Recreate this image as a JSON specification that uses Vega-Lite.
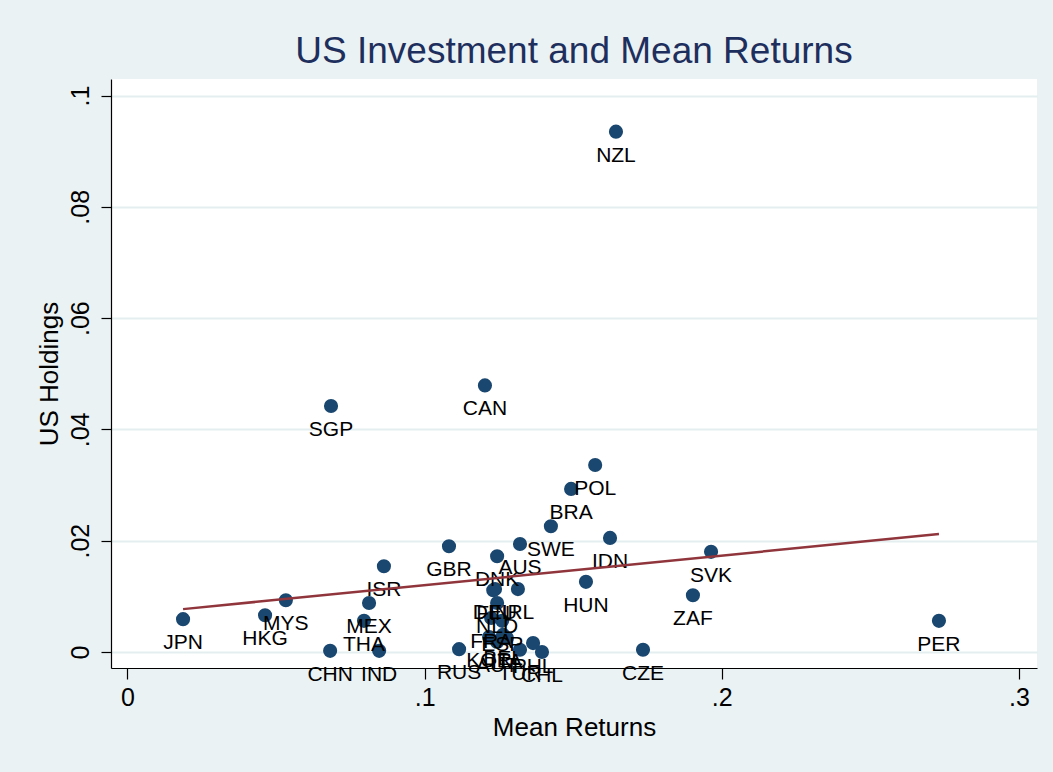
{
  "$schema": "https://vega.github.io/schema/vega-lite/v6.json",
  "width": 926,
  "height": 589,
  "autosize": "none",
  "padding": {"left": 111, "top": 79, "right": 16, "bottom": 104},
  "background": "#eaf2f3",
  "config": {"view": {"fill": "white", "stroke": null}, "font": "Liberation Sans"},
  "title": {"text": "US Investment and Mean Returns", "fontSize": 37, "fontWeight": "normal", "color": "#1e2f5e", "font": "Liberation Sans", "anchor": "middle", "offset": 8},
  "datasets": {
    "pts": [
      {"country": "JPN", "ret": 0.0187, "hold": 0.0059},
      {"country": "HKG", "ret": 0.0463, "hold": 0.0066},
      {"country": "MYS", "ret": 0.0533, "hold": 0.0093},
      {"country": "SGP", "ret": 0.0685, "hold": 0.0442},
      {"country": "CHN", "ret": 0.0682, "hold": 0.0002},
      {"country": "THA", "ret": 0.0796, "hold": 0.0056},
      {"country": "MEX", "ret": 0.0813, "hold": 0.0088},
      {"country": "IND", "ret": 0.0847, "hold": 0.0002},
      {"country": "ISR", "ret": 0.0863, "hold": 0.0154},
      {"country": "GBR", "ret": 0.1082, "hold": 0.0190},
      {"country": "RUS", "ret": 0.1116, "hold": 0.0005},
      {"country": "CAN", "ret": 0.1203, "hold": 0.0479},
      {"country": "DNK", "ret": 0.1244, "hold": 0.0172},
      {"country": "DEU", "ret": 0.1237, "hold": 0.0113},
      {"country": "FIN", "ret": 0.1231, "hold": 0.0111},
      {"country": "IRL", "ret": 0.1314, "hold": 0.0113},
      {"country": "NLD", "ret": 0.1244, "hold": 0.0088},
      {"country": "FRA", "ret": 0.1224, "hold": 0.0061},
      {"country": "ESP", "ret": 0.1261, "hold": 0.0056},
      {"country": "KOR", "ret": 0.1217, "hold": 0.0027},
      {"country": "AUT", "ret": 0.1244, "hold": 0.0018},
      {"country": "BEL", "ret": 0.1264, "hold": 0.0031},
      {"country": "ITA", "ret": 0.1277, "hold": 0.0025},
      {"country": "TUR", "ret": 0.1321, "hold": 0.0004},
      {"country": "PHL", "ret": 0.1365, "hold": 0.0016},
      {"country": "CHL", "ret": 0.1395, "hold": 0.0000},
      {"country": "SWE", "ret": 0.1425, "hold": 0.0226},
      {"country": "AUS", "ret": 0.1321, "hold": 0.0194},
      {"country": "BRA", "ret": 0.1493, "hold": 0.0293},
      {"country": "HUN", "ret": 0.1543, "hold": 0.0126},
      {"country": "POL", "ret": 0.1574, "hold": 0.0336},
      {"country": "IDN", "ret": 0.1624, "hold": 0.0205},
      {"country": "NZL", "ret": 0.1644, "hold": 0.0935},
      {"country": "CZE", "ret": 0.1735, "hold": 0.0004},
      {"country": "ZAF", "ret": 0.1903, "hold": 0.0102},
      {"country": "SVK", "ret": 0.1964, "hold": 0.0180},
      {"country": "PER", "ret": 0.2731, "hold": 0.0056}
    ],
    "fit": [
      {"ret": 0.0187, "hold": 0.0077},
      {"ret": 0.2731, "hold": 0.0212}
    ]
  },
  "encoding": {
    "x": {
      "field": "ret", "type": "quantitative",
      "scale": {"domain": [-0.00555, 0.3061], "nice": false, "zero": false},
      "axis": {
        "values": [0, 0.1, 0.2, 0.3], "title": "Mean Returns", "grid": false,
        "labelExpr": "datum.value == 0 ? '0' : slice(format(datum.value, '~g'), 1)",
        "domainColor": "black", "domainWidth": 1.2, "tickColor": "black", "tickWidth": 1.2, "tickSize": 11,
        "labelFontSize": 25, "labelColor": "black", "labelFont": "Liberation Sans", "labelPadding": 6,
        "titleFontSize": 26, "titleFontWeight": "normal", "titleColor": "black", "titleFont": "Liberation Sans", "titlePadding": 4
      }
    },
    "y": {
      "field": "hold", "type": "quantitative",
      "scale": {"domain": [-0.00288, 0.10297], "nice": false, "zero": false},
      "axis": {
        "values": [0, 0.02, 0.04, 0.06, 0.08, 0.1], "title": "US Holdings", "grid": true,
        "gridColor": "#e4edf0", "gridWidth": 2,
        "labelExpr": "datum.value == 0 ? '0' : slice(format(datum.value, '~g'), 1)",
        "labelAngle": 270,
        "domainColor": "black", "domainWidth": 1.2, "tickColor": "black", "tickWidth": 1.2, "tickSize": 10,
        "labelFontSize": 25, "labelColor": "black", "labelFont": "Liberation Sans", "labelPadding": 8,
        "titleFontSize": 26, "titleFontWeight": "normal", "titleColor": "black", "titleFont": "Liberation Sans", "titlePadding": 6
      }
    }
  },
  "layer": [
    {"data": {"name": "pts"}, "mark": {"type": "circle", "size": 200, "color": "#1a476f", "opacity": 1}},
    {"data": {"name": "pts"}, "mark": {"type": "text", "dy": 24, "fontSize": 21, "color": "black", "font": "Liberation Sans"}, "encoding": {"text": {"field": "country"}}},
    {"data": {"name": "fit"}, "mark": {"type": "line", "color": "#90353b", "strokeWidth": 2.5}, "encoding": {}}
  ]
}
